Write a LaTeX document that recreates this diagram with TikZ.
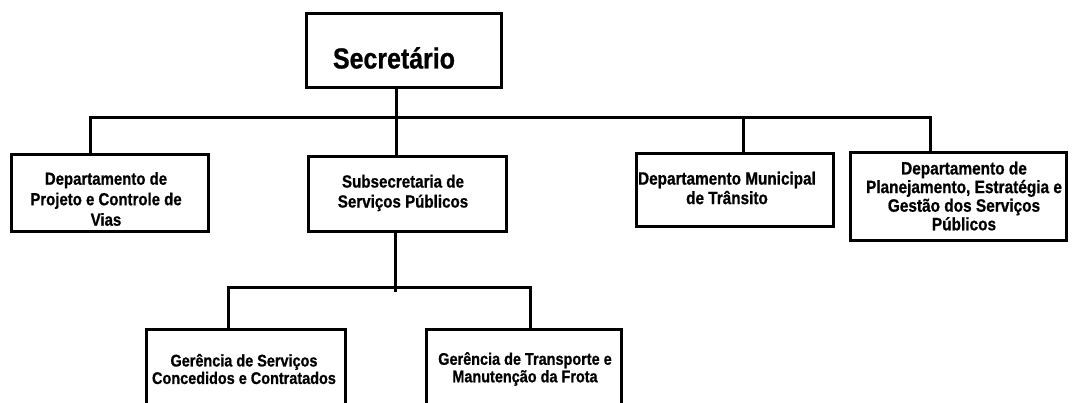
\documentclass[tikz,border=0pt]{standalone}
\usepackage{fontspec}
\setmainfont{Liberation Sans}
\newfontfamily\narfont[FakeStretch=0.86,FakeBold=0.8]{Liberation Sans}
\begin{document}
\begin{tikzpicture}[x=1pt,y=-1pt,
  box/.style={draw=black,line width=3pt,inner sep=0pt},
  conn/.style={line width=3pt},
  txt/.style={align=center,inner sep=0pt}]
\useasboundingbox (0,0) rectangle (1072,403);
\clip (0,0) rectangle (1072,403);
% boxes
\node[box,minimum width=195pt,minimum height=74pt] (sec) at (404,50.5) {};
\node[box,minimum width=197pt,minimum height=77pt] (dpcv) at (110,193) {};
\node[box,minimum width=198pt,minimum height=75pt] (sub) at (407.5,194) {};
\node[box,minimum width=197pt,minimum height=73pt] (dmt) at (735,190) {};
\node[box,minimum width=216pt,minimum height=88pt] (dpe) at (958.5,196.5) {};
\node[box,minimum width=199pt,minimum height=100pt] (gsc) at (246,380) {};
\node[box,minimum width=195pt,minimum height=100pt] (gtm) at (524,380) {};
% texts
\node[txt,font=\narfont\bfseries\fontsize{29}{33}\selectfont] (sec-t) at (394,58) {Secretário};
\node[txt,font=\narfont\bfseries\fontsize{17.4}{20.5}\selectfont] (dpcv-t) at (106,199) {Departamento de\\Projeto e Controle de\\Vias};
\node[txt,font=\narfont\bfseries\fontsize{17.6}{20}\selectfont] (sub-t) at (403,193) {Subsecretaria de\\Serviços Públicos};
\node[txt,font=\narfont\bfseries\fontsize{17.8}{19.5}\selectfont] (dmt-t) at (727,188) {Departamento Municipal\\de Trânsito};
\node[txt,font=\narfont\bfseries\fontsize{17.9}{18.6}\selectfont] (dpe-t) at (964,196) {Departamento de\\Planejamento, Estratégia e\\Gestão dos Serviços\\Públicos};
\node[txt,font=\narfont\bfseries\fontsize{16.8}{17.5}\selectfont] (gsc-t) at (244,369) {Gerência de Serviços\\Concedidos e Contratados};
\node[txt,font=\narfont\bfseries\fontsize{16.8}{17.5}\selectfont] (gtm-t) at (525,369) {Gerência de Transporte e\\Manutenção da Frota};
% connectors
\coordinate (hubL) at (90,118);
\coordinate (hub) at (396,118);
\coordinate (hubM) at (743,118);
\coordinate (hubR) at (930,118);
\coordinate (hub2) at (395,292);
\coordinate (hub2L) at (228,288);
\coordinate (hub2R) at (530,288);
\draw[conn] (hub |- sec.south) -- (hub |- sub.north);
\draw[conn] (hubL |- dpcv.north) -- (hubL) -- (hubR) -- (hubR |- dpe.north);
\draw[conn] (hubM) -- (hubM |- dmt.north);
\draw[conn] (hub2 |- sub.south) -- (hub2);
\draw[conn] (hub2L |- gsc.north) -- (hub2L) -- (hub2R) -- (hub2R |- gtm.north);
\end{tikzpicture}
\end{document}
